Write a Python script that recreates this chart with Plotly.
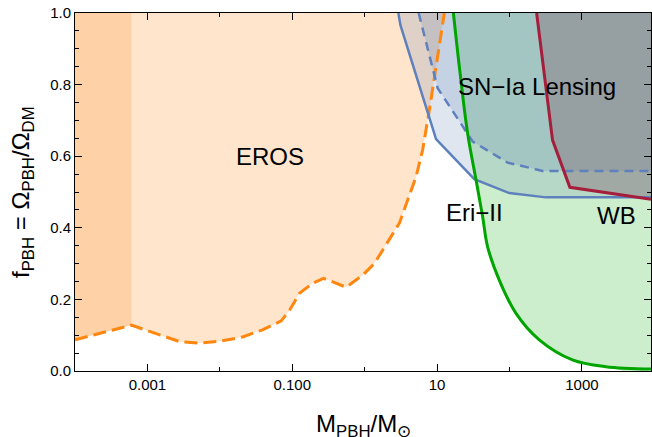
import numpy as np
import plotly.graph_objects as go

# ---- data ----
x_min, x_max = 1.0e-4, 9000.0

eros_m = [1.0e-4, 6.0e-4, 2.79e-3, 5.26e-3, 9.9e-3, 0.0206, 0.0389, 0.0705, 0.0918, 0.126,
          0.19, 0.27, 0.556, 0.942, 1.36, 1.78, 3.02, 5.13, 6.31, 7.83, 9.18, 12.6]
eros_f = [0.087, 0.128, 0.082, 0.078, 0.083, 0.095, 0.115, 0.14, 0.17, 0.217,
          0.245, 0.259, 0.234, 0.268, 0.30, 0.338, 0.413, 0.543, 0.617, 0.729, 0.822, 1.0]
band_m = [1.0e-4, 6.0e-4]
band_f = [0.087, 0.128]

sn_m = [2.92, 3.12, 9.68, 32.7, 99.3, 318, 9000]
sn_f = [1.0, 0.966, 0.648, 0.536, 0.497, 0.485, 0.485]
sn2_m = [5.57, 10.2, 31.0, 94.2, 286, 9000]
sn2_f = [1.0, 0.79, 0.641, 0.582, 0.559, 0.559]

eri_m = [16.8, 20.3, 26.4, 34.5, 42.6, 49.9, 72.3, 123, 258, 741, 2140, 9000]
eri_f = [1.0, 0.85, 0.664, 0.534, 0.431, 0.347, 0.254, 0.161, 0.087, 0.031, 0.012, 0.0055]

wb_m = [237, 393, 682, 9000]
wb_f = [1.0, 0.645, 0.513, 0.48]

x_tickvals = [0.001, 0.1, 10, 1000]
x_ticktext = ["0.001", "0.100", "10", "1000"]
x_minor = [0.01, 1, 100]
y_tickvals = [0.0, 0.2, 0.4, 0.6, 0.8, 1.0]
y_ticktext = ["0.0", "0.2", "0.4", "0.6", "0.8", "1.0"]

labels = ["EROS", "SN\u2212Ia Lensing", "Eri\u2212II", "WB"]
label_m = [0.0486, 241.5, 32.6, 2978]
label_f = [0.598, 0.796, 0.444, 0.433]

# ---- styles ----
ORANGE_FILL = "rgba(255,150,50,0.25)"
ORANGE_LINE = "rgb(255,135,15)"
BLUE_FILL = "rgba(94,129,181,0.2)"
BLUE_LINE = "rgb(94,129,190)"
GREEN_FILL = "rgba(0,170,0,0.2)"
GREEN_LINE = "rgb(0,165,0)"
WB_FILL = "rgba(130,105,115,0.42)"
WB_LINE = "rgb(165,30,60)"

fig = go.Figure()

def region(xs, ys, color, close_pts, shape="linear"):
    px = list(xs) + [p[0] for p in close_pts]
    py = list(ys) + [p[1] for p in close_pts]
    fig.add_trace(go.Scatter(x=px, y=py, mode="lines", fill="toself", fillcolor=color,
                             line=dict(width=0, shape=shape), hoverinfo="skip", showlegend=False))

def boundary(xs, ys, color, width, dash="solid", shape="linear"):
    fig.add_trace(go.Scatter(x=xs, y=ys, mode="lines",
                             line=dict(color=color, width=width, dash=dash, shape=shape),
                             hoverinfo="skip", showlegend=False))

# fills
region(eros_m, eros_f, ORANGE_FILL, [(eros_m[0], 1.0)])
region(band_m, band_f, ORANGE_FILL, [(band_m[-1], 1.0), (band_m[0], 1.0)])
region(eri_m, eri_f, GREEN_FILL, [(eri_m[-1], 1.0)], shape="spline")
region(sn_m, sn_f, BLUE_FILL, [(sn_m[-1], 1.0)])
region(sn2_m, sn2_f, BLUE_FILL, [(sn2_m[-1], 1.0)])
region(wb_m, wb_f, WB_FILL, [(wb_m[-1], 1.0)])

# boundaries
boundary(eros_m, eros_f, ORANGE_LINE, 3, dash="13px,6px")
boundary(sn_m, sn_f, BLUE_LINE, 2.5)
boundary(sn2_m, sn2_f, BLUE_LINE, 2.5, dash="9px,6px")
boundary(eri_m, eri_f, GREEN_LINE, 3, shape="spline")
boundary(wb_m, wb_f, WB_LINE, 3)

for t, m, f in zip(labels, label_m, label_f):
    fig.add_annotation(x=np.log10(m), y=f, xref="x", yref="y", text=t, showarrow=False,
                       font=dict(size=24, color="black"), xanchor="center", yanchor="middle")

fig.add_annotation(x=0.5, y=-0.103, xref="paper", yref="paper",
                   text="M<sub>PBH</sub>/M<sub>\u2299</sub>", showarrow=False,
                   font=dict(size=24, color="black"), xanchor="center", yanchor="top")
fig.add_annotation(x=-0.092, y=0.5, xref="paper", yref="paper", textangle=-90,
                   text="f<sub>PBH</sub> = \u03a9<sub>PBH</sub>/\u03a9<sub>DM</sub>", showarrow=False,
                   font=dict(size=24, color="black"), xanchor="center", yanchor="middle")

axis_common = dict(showline=True, linecolor="black", linewidth=1, mirror="ticks",
                   ticks="inside", ticklen=7, tickwidth=1, tickcolor="black",
                   showgrid=False, zeroline=False)

fig.update_xaxes(type="log", range=[np.log10(x_min), np.log10(x_max)],
                 tickmode="array", tickvals=x_tickvals, ticktext=x_ticktext,
                 minor=dict(tickmode="array", tickvals=x_minor, ticks="inside", ticklen=4,
                            tickcolor="black", tickwidth=1),
                 **axis_common)
fig.update_yaxes(range=[0, 1], tickmode="array", tickvals=y_tickvals, ticktext=y_ticktext,
                 minor=dict(dtick=0.05, ticks="inside", ticklen=4, tickcolor="black", tickwidth=1),
                 **axis_common)

fig.update_layout(width=652, height=437, margin=dict(l=75, r=1, t=13, b=66),
                  plot_bgcolor="white", paper_bgcolor="white",
                  font=dict(family="Liberation Sans, Arial, sans-serif", size=15, color="black"),
                  showlegend=False)

fig.write_html("out.html")
